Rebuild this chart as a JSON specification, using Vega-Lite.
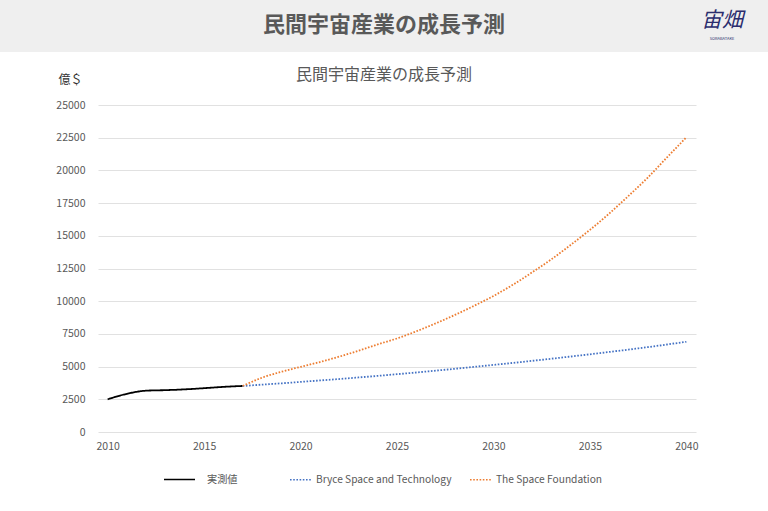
{
  "$schema": "https://vega.github.io/schema/vega-lite/v6.json",
  "width": 598,
  "height": 327,
  "autosize": "none",
  "padding": {"left": 98, "top": 105, "right": 72, "bottom": 79},
  "background": "white",
  "title": {
    "text": "民間宇宙産業の成長予測",
    "subtitle": "民間宇宙産業の成長予測",
    "anchor": "middle",
    "frame": "group",
    "dx": -13,
    "offset": -84,
    "fontSize": 22,
    "fontWeight": "bold",
    "color": "#595959",
    "subtitleFontSize": 16,
    "subtitleColor": "#595959",
    "subtitlePadding": 30
  },
  "datasets": {
    "series": [
      {"year": 2010, "value": 2500, "series": "実測値"},
      {"year": 2011, "value": 2920, "series": "実測値"},
      {"year": 2012, "value": 3160, "series": "実測値"},
      {"year": 2013, "value": 3200, "series": "実測値"},
      {"year": 2014, "value": 3260, "series": "実測値"},
      {"year": 2015, "value": 3350, "series": "実測値"},
      {"year": 2016, "value": 3450, "series": "実測値"},
      {"year": 2017, "value": 3520, "series": "実測値"},
      {"year": 2017, "value": 3520, "series": "Bryce Space and Technology"},
      {"year": 2018, "value": 3620, "series": "Bryce Space and Technology"},
      {"year": 2019, "value": 3720, "series": "Bryce Space and Technology"},
      {"year": 2020, "value": 3830, "series": "Bryce Space and Technology"},
      {"year": 2021, "value": 3940, "series": "Bryce Space and Technology"},
      {"year": 2022, "value": 4050, "series": "Bryce Space and Technology"},
      {"year": 2023, "value": 4170, "series": "Bryce Space and Technology"},
      {"year": 2024, "value": 4290, "series": "Bryce Space and Technology"},
      {"year": 2025, "value": 4420, "series": "Bryce Space and Technology"},
      {"year": 2026, "value": 4550, "series": "Bryce Space and Technology"},
      {"year": 2027, "value": 4690, "series": "Bryce Space and Technology"},
      {"year": 2028, "value": 4830, "series": "Bryce Space and Technology"},
      {"year": 2029, "value": 4980, "series": "Bryce Space and Technology"},
      {"year": 2030, "value": 5130, "series": "Bryce Space and Technology"},
      {"year": 2031, "value": 5280, "series": "Bryce Space and Technology"},
      {"year": 2032, "value": 5440, "series": "Bryce Space and Technology"},
      {"year": 2033, "value": 5600, "series": "Bryce Space and Technology"},
      {"year": 2034, "value": 5770, "series": "Bryce Space and Technology"},
      {"year": 2035, "value": 5940, "series": "Bryce Space and Technology"},
      {"year": 2036, "value": 6120, "series": "Bryce Space and Technology"},
      {"year": 2037, "value": 6300, "series": "Bryce Space and Technology"},
      {"year": 2038, "value": 6490, "series": "Bryce Space and Technology"},
      {"year": 2039, "value": 6690, "series": "Bryce Space and Technology"},
      {"year": 2040, "value": 6900, "series": "Bryce Space and Technology"},
      {"year": 2017, "value": 3520, "series": "The Space Foundation"},
      {"year": 2018, "value": 4150, "series": "The Space Foundation"},
      {"year": 2019, "value": 4600, "series": "The Space Foundation"},
      {"year": 2020, "value": 4980, "series": "The Space Foundation"},
      {"year": 2021, "value": 5350, "series": "The Space Foundation"},
      {"year": 2022, "value": 5760, "series": "The Space Foundation"},
      {"year": 2023, "value": 6210, "series": "The Space Foundation"},
      {"year": 2024, "value": 6700, "series": "The Space Foundation"},
      {"year": 2025, "value": 7150, "series": "The Space Foundation"},
      {"year": 2026, "value": 7700, "series": "The Space Foundation"},
      {"year": 2027, "value": 8300, "series": "The Space Foundation"},
      {"year": 2028, "value": 8950, "series": "The Space Foundation"},
      {"year": 2029, "value": 9650, "series": "The Space Foundation"},
      {"year": 2030, "value": 10400, "series": "The Space Foundation"},
      {"year": 2031, "value": 11250, "series": "The Space Foundation"},
      {"year": 2032, "value": 12200, "series": "The Space Foundation"},
      {"year": 2033, "value": 13200, "series": "The Space Foundation"},
      {"year": 2034, "value": 14300, "series": "The Space Foundation"},
      {"year": 2035, "value": 15450, "series": "The Space Foundation"},
      {"year": 2036, "value": 16700, "series": "The Space Foundation"},
      {"year": 2037, "value": 18050, "series": "The Space Foundation"},
      {"year": 2038, "value": 19450, "series": "The Space Foundation"},
      {"year": 2039, "value": 21000, "series": "The Space Foundation"},
      {"year": 2040, "value": 22530, "series": "The Space Foundation"}
    ]
  },
  "layer": [
    {
      "data": {"values": [{}]},
      "mark": {"type": "rect", "color": "#efefef"},
      "encoding": {
        "x": {"value": -98},
        "x2": {"value": 670},
        "y": {"value": -105},
        "y2": {"value": -53}
      }
    },
    {
      "data": {"values": [{"logo": "宙畑"}]},
      "mark": {"type": "text", "fontSize": 21, "color": "#2b2d6e", "fontStyle": "italic", "align": "center", "baseline": "middle"},
      "encoding": {
        "text": {"field": "logo"},
        "x": {"value": 624},
        "y": {"value": -84}
      }
    },
    {
      "data": {"values": [{"logo": "SORABATAKE"}]},
      "mark": {"type": "text", "fontSize": 4, "color": "#2b2d6e", "align": "center", "baseline": "middle"},
      "encoding": {
        "text": {"field": "logo"},
        "x": {"value": 624},
        "y": {"value": -66}
      }
    },
    {
      "data": {"name": "series"},
      "mark": {"type": "line", "strokeWidth": 1.8, "interpolate": "monotone"},
      "encoding": {
        "x": {
          "field": "year",
          "type": "ordinal",
          "bandPosition": 0.5,
          "scale": {"type": "band", "paddingInner": 0, "paddingOuter": 0},
          "axis": {
            "values": [2010, 2015, 2020, 2025, 2030, 2035, 2040],
            "tickBand": "extent",
            "labelAngle": 0,
            "labelPadding": 9,
            "title": null
          }
        },
        "y": {
          "field": "value",
          "type": "quantitative",
          "scale": {"domain": [0, 25000], "nice": false},
          "axis": {
            "values": [0, 2500, 5000, 7500, 10000, 12500, 15000, 17500, 20000, 22500, 25000],
            "format": "d",
            "labelPadding": 13,
            "title": "億＄",
            "titleAngle": 0,
            "titleAlign": "left",
            "titleBaseline": "middle",
            "titleX": -40,
            "titleY": -26,
            "titleFontSize": 12,
            "titleFontWeight": "normal",
            "titleColor": "#333333"
          }
        },
        "color": {
          "field": "series",
          "type": "nominal",
          "scale": {
            "domain": ["実測値", "Bryce Space and Technology", "The Space Foundation"],
            "range": ["#000000", "#4472c4", "#ed7d31"]
          },
          "legend": {
            "orient": "none",
            "legendX": 65,
            "legendY": 358,
            "direction": "horizontal",
            "title": null,
            "values": ["実測値"],
            "symbolSize": 961,
            "labelOffset": 11
          }
        },
        "strokeDash": {
          "field": "series",
          "type": "nominal",
          "scale": {
            "domain": ["Bryce Space and Technology", "The Space Foundation", "実測値"],
            "range": [[1.6, 1.6], [1.6, 1.6], [1, 0]]
          },
          "legend": {
            "orient": "none",
            "legendX": 191,
            "legendY": 363,
            "direction": "horizontal",
            "title": null,
            "values": ["Bryce Space and Technology", "The Space Foundation"],
            "symbolSize": 441,
            "labelOffset": 4,
            "columnPadding": 15,
            "encode": {
              "symbols": {
                "update": {
                  "stroke": {"scale": "color", "field": "value"}
                }
              }
            }
          }
        }
      }
    }
  ],
  "config": {
    "font": "Noto Sans CJK JP",
    "view": {"stroke": null},
    "axis": {
      "labelColor": "#595959",
      "labelFontSize": 10.5,
      "gridColor": "#d9d9d9",
      "gridWidth": 0.8,
      "domain": false,
      "ticks": false
    },
    "legend": {
      "labelColor": "#595959",
      "labelFontSize": 10.2,
      "symbolType": "stroke",
      "symbolStrokeWidth": 1.5
    }
  }
}
